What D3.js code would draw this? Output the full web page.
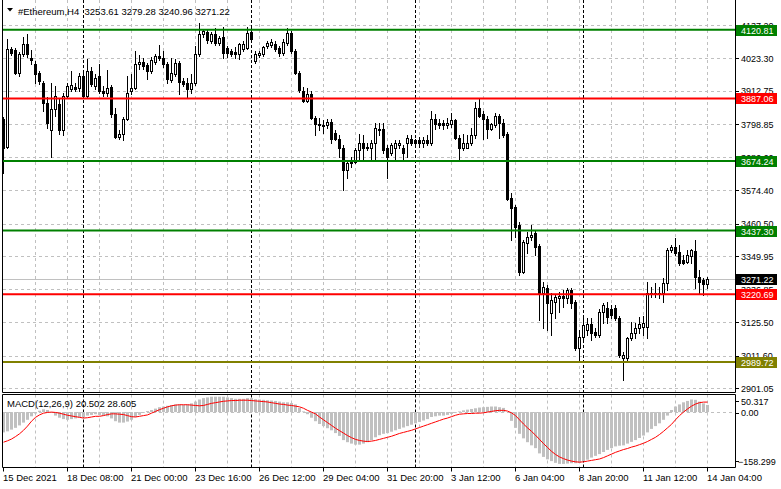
<!DOCTYPE html>
<html><head><meta charset="utf-8">
<script src="https://cdn.jsdelivr.net/npm/d3@7"></script>
<style>body{margin:0;background:#fff}svg{display:block}text{font-family:"Liberation Sans",Arial,sans-serif}</style>
</head><body><svg id="c" width="781" height="489"></svg>
<script>
const open=[3818,3723,4056,4053,3975,4039,4073,4025,4005,3975,3941,3873,3778,3852,3869,3778,3896,3920,3927,3924,3964,3896,3981,3930,3964,3913,3907,3927,3835,3757,3767,3818,3913,3924,4005,4012,4002,3981,4012,4032,4025,4005,3951,3971,4008,3947,3941,3920,3941,4039,4107,4114,4083,4107,4076,4097,4059,4049,4046,4039,4056,4059,4114,4015,4036,4039,4066,4070,4073,4059,4042,4076,4110,4049,3975,3913,3880,3903,3822,3801,3795,3795,3808,3771,3750,3720,3642,3666,3669,3710,3734,3723,3717,3734,3784,3784,3717,3703,3717,3727,3720,3734,3750,3744,3744,3734,3747,3737,3818,3805,3805,3795,3801,3812,3754,3717,3720,3734,3761,3856,3835,3818,3784,3795,3829,3805,3767,3547,3516,3455,3296,3394,3414,3428,3384,3224,3241,3156,3194,3207,3214,3207,3234,3194,3038,3075,3099,3119,3092,3082,3160,3173,3170,3173,3139,3004,3004,3072,3088,3105,3109,3109,3221,3221,3221,3224,3258,3370,3380,3363,3336,3330,3350,3367,3279,3268,3253.61];
const high=[3825,4090,4063,4059,4046,4097,4107,4053,4015,3981,3947,3893,3941,3930,3890,3907,3941,3981,3941,3975,3981,4022,3995,3971,4005,3930,3985,3934,3856,3778,3825,3964,3971,4049,4036,4025,4008,4029,4039,4070,4049,4012,4025,4022,4015,3958,3958,3971,4066,4144,4124,4124,4114,4127,4100,4131,4066,4056,4063,4076,4083,4131,4127,4049,4049,4066,4083,4090,4083,4066,4090,4127,4117,4056,3981,3927,3924,3913,3829,3822,3815,3818,3818,3778,3761,3727,3676,3686,3720,3767,3761,3734,3744,3805,3805,3805,3727,3734,3744,3747,3727,3761,3761,3750,3757,3757,3761,3846,3835,3818,3812,3822,3839,3818,3761,3767,3761,3788,3876,3886,3846,3829,3805,3839,3835,3818,3774,3564,3523,3465,3404,3431,3455,3438,3391,3262,3251,3224,3217,3228,3234,3241,3241,3201,3099,3139,3139,3139,3105,3170,3190,3194,3184,3184,3146,3024,3075,3126,3123,3143,3146,3262,3245,3258,3245,3275,3377,3387,3411,3387,3353,3370,3374,3404,3302,3275,3279.28];
const low=[3632,3717,4036,3971,3964,4032,4029,4005,3941,3937,3846,3788,3686,3829,3767,3761,3890,3913,3913,3913,3890,3890,3930,3920,3907,3896,3896,3825,3754,3750,3747,3812,3903,3920,3988,3988,3954,3975,4005,4019,3995,3941,3944,3964,3903,3930,3890,3907,3934,4032,4097,4076,4076,4070,4070,4025,4029,4032,4025,4022,4049,4056,4083,4008,4029,4032,4059,4063,4049,4032,4036,4070,4042,3971,3910,3876,3876,3818,3761,3778,3771,3788,3734,3744,3686,3574,3615,3652,3666,3676,3676,3710,3676,3676,3761,3703,3615,3693,3676,3720,3676,3686,3727,3723,3723,3723,3727,3730,3784,3788,3784,3788,3791,3750,3676,3710,3717,3727,3754,3825,3750,3754,3778,3791,3754,3757,3540,3404,3414,3285,3292,3360,3404,3353,3133,3105,3099,3082,3139,3160,3177,3190,3173,3031,2997,3065,3082,3065,3075,3075,3123,3123,3139,3133,3007,2929,2997,3065,3072,3088,3082,3072,3211,3211,3207,3194,3234,3363,3353,3319,3322,3326,3326,3241,3224,3217,3240.96];
const close=[3720,4056,4042,3975,4039,4073,4039,4019,3971,3947,3873,3805,3852,3896,3778,3896,3930,3934,3920,3964,3896,3981,3937,3958,3913,3907,3924,3835,3757,3767,3818,3907,3924,4005,4012,3998,3981,4019,4032,4025,4005,3954,3975,4008,3944,3937,3920,3941,4039,4107,4117,4087,4107,4076,4093,4042,4042,4039,4039,4073,4073,4110,4090,4039,4042,4063,4076,4080,4056,4042,4080,4110,4049,3975,3917,3880,3903,3822,3801,3795,3798,3808,3750,3750,3717,3642,3666,3669,3710,3737,3720,3717,3734,3788,3778,3710,3686,3727,3734,3737,3703,3754,3737,3734,3734,3747,3737,3818,3801,3795,3798,3805,3812,3754,3717,3737,3737,3761,3856,3829,3818,3784,3801,3829,3805,3761,3543,3513,3448,3296,3397,3414,3421,3380,3224,3245,3190,3201,3211,3214,3207,3234,3190,3038,3075,3116,3119,3088,3082,3160,3184,3143,3150,3139,3014,3014,3072,3088,3105,3119,3123,3224,3224,3224,3224,3258,3370,3380,3360,3326,3326,3353,3370,3279,3262,3255,3271.22];
const macdMain=[-58,-55,-50,-45,-38,-30,-22,-12,-4,4,8,6,-2,-10,-16,-20,-22,-20,-18,-15,-14,-10,-8,-6,-8,-10,-12,-18,-26,-30,-30,-27,-22,-14,-8,-2,3,6,10,14,16,18,20,22,22,21,22,25,30,36,40,42,44,44,44,44,42,40,38,38,38,40,40,37,36,35,34,33,32,30,28,28,26,22,12,2,-6,-16,-26,-34,-40,-46,-52,-60,-68,-80,-86,-90,-93,-93,-90,-86,-80,-72,-66,-62,-60,-56,-52,-48,-44,-40,-36,-32,-28,-24,-20,-14,-12,-10,-10,-8,-5,-2,2,5,7,9,11,13,14,15,16,16,14,12,0,-25,-45,-62,-75,-86,-95,-103,-118,-128,-135,-140,-145,-148,-148,-147,-146,-146,-145,-140,-136,-130,-125,-120,-114,-108,-103,-98,-96,-95,-90,-85,-80,-74,-67,-58,-48,-40,-32,-22,-10,6,16,22,28,32,36,35,30,25,20.502];
const macdSignal=[-86,-82,-77,-70,-62,-52,-40,-26,-15,-8,-3,-1,0,-1,-3,-6,-9,-11,-13,-15,-17,-16,-14,-12,-12,-10,-7,-5,-5,-6,-7,-10,-13,-14,-12,-10,-8,-3,2,7,11,15,18,20,21,21,21,20,19,18,19,22,25,27,29,31,32,33,33,34,34,34,33,32,31,30,29,27,25,23,22,20,19,17,15,11,5,0,-5,-14,-22,-30,-38,-46,-53,-60,-67,-73,-78,-81,-83,-84,-83,-81,-78,-75,-72,-69,-65,-61,-58,-55,-52,-48,-44,-40,-36,-32,-28,-24,-20,-17,-13,-9,-6,-5,-4,-4,-3,-3,-2,0,2,4,5,5,3,-2,-10,-22,-34,-45,-55,-66,-78,-90,-101,-112,-121,-128,-133,-137,-140,-142,-143,-142,-140,-138,-136,-134,-130,-125,-120,-115,-111,-107,-104,-100,-97,-93,-89,-84,-78,-72,-64,-55,-45,-35,-22,-10,0,9,17,23,27,28.6,28.605];
const priceTicks=[4137.20,4023.30,3912.75,3798.85,3686.60,3574.40,3460.50,3349.95,3236.85,3125.50,3011.60,2901.05];
const timeLabels=["15 Dec 2021","18 Dec 08:00","21 Dec 00:00","23 Dec 16:00","26 Dec 12:00","29 Dec 04:00","31 Dec 20:00","3 Jan 12:00","6 Jan 04:00","8 Jan 20:00","11 Jan 12:00","14 Jan 04:00"];
const timeLabelIdx=[0,16,32,48,64,80,96,112,128,144,160,176];
const weekSepIdx=[20,62,103,145];
const levelValues=[4120.81,3887.06,3674.24,3437.30,3220.69,2989.72];
const levelColors=["#008000","#ff0000","#008000","#008000","#ff0000","#808000"];
const lastPrice=3271.22;
const macdLabelValues=[50.317,0,-158.299];
const titleText="#Ethereum,H4\u00a0\u00a03253.61 3279.28 3240.96 3271.22";
const macdTitle="MACD(12,26,9) 20.502 28.605";

const svg=d3.select("#c");
const L=2.5,R=735.5,mTop=0,mBot=392.5,dTop=394.5,dBot=467.5;
const x=d3.scaleLinear().domain([0,176]).range([3,707]);
const y=d3.scaleLinear().domain([2901.05,4137.20]).range([388,25]);
const ym=d3.scaleLinear().domain([-158.299,50.317]).range([dBot,dTop]);
const fmt=d3.format(".2f");
const gridC="#c0c0c0";

const defs=svg.append("defs");
defs.append("clipPath").attr("id","mc").append("rect").attr("x",3).attr("y",1).attr("width",732).attr("height",391);
defs.append("clipPath").attr("id","dc").append("rect").attr("x",3).attr("y",395).attr("width",732).attr("height",72);

// horizontal grid
svg.append("g").selectAll("line").data(priceTicks).join("line")
 .attr("x1",3).attr("x2",735).attr("y1",d=>Math.round(y(d))+0.5).attr("y2",d=>Math.round(y(d))+0.5)
 .attr("stroke",gridC).attr("stroke-dasharray","3,3");
// vertical grid + week separators
const vg=d3.range(1,23).map(k=>k*8);
[[mTop,mBot],[dTop,dBot]].forEach(([a,b])=>{
 svg.append("g").selectAll("line").data(vg).join("line")
  .attr("x1",d=>x(d)+0.5).attr("x2",d=>x(d)+0.5).attr("y1",a).attr("y2",b)
  .attr("stroke",gridC).attr("stroke-dasharray","3,3");
 svg.append("g").selectAll("line").data(weekSepIdx).join("line")
  .attr("x1",d=>x(d)+0.5).attr("x2",d=>x(d)+0.5).attr("y1",a).attr("y2",b)
  .attr("stroke","#000").attr("stroke-dasharray","3,2");
});
// zero line macd
svg.append("line").attr("x1",3).attr("x2",735).attr("y1",Math.round(ym(0))+0.5).attr("y2",Math.round(ym(0))+0.5)
 .attr("stroke",gridC).attr("stroke-dasharray","3,3");

// bid line
svg.append("line").attr("x1",3).attr("x2",735).attr("y1",Math.round(y(lastPrice))+0.5).attr("y2",Math.round(y(lastPrice))+0.5).attr("stroke","#c0c0c0");

// candles
const idx=d3.range(open.length);
const cg=svg.append("g").attr("clip-path","url(#mc)");
cg.selectAll("line").data(idx).join("line")
 .attr("x1",i=>x(i)+0.5).attr("x2",i=>x(i)+0.5)
 .attr("y1",i=>Math.round(y(high[i]))).attr("y2",i=>Math.round(y(low[i]))+1)
 .attr("stroke","#000");
cg.selectAll("rect").data(idx).join("rect")
 .each(function(i){
   const t=Math.round(y(Math.max(open[i],close[i]))), b=Math.round(y(Math.min(open[i],close[i])));
   const h=Math.max(1,b-t);
   const s=d3.select(this);
   if(close[i]<open[i]){
     s.attr("x",x(i)-1).attr("y",t).attr("width",3).attr("height",h+1).attr("fill","#000");
   } else {
     s.attr("x",x(i)-0.5).attr("y",t+0.5).attr("width",2).attr("height",Math.max(0.5,h)).attr("fill","#fff").attr("stroke","#000");
   }
 });

// level lines
svg.append("g").selectAll("line").data(levelValues).join("line")
 .attr("x1",3).attr("x2",735).attr("y1",d=>y(d)).attr("y2",d=>y(d))
 .attr("stroke",(d,i)=>levelColors[i]).attr("stroke-width",2);

// macd histogram
const dg=svg.append("g").attr("clip-path","url(#dc)");
dg.selectAll("rect").data(idx).join("rect")
 .attr("x",i=>x(i)-1).attr("width",3)
 .attr("y",i=>Math.min(ym(macdMain[i]),ym(0)))
 .attr("height",i=>Math.abs(ym(macdMain[i])-ym(0)))
 .attr("fill","#c0c0c0");
dg.append("path").datum(idx).attr("fill","none").attr("stroke","#ff0000").attr("stroke-width",1)
 .attr("d",d3.line().x(i=>x(i)+0.5).y(i=>ym(macdSignal[i])));

// borders
[[L,mTop,L,mBot],[R,mTop,R,mBot],[L,mBot,R,mBot],[L,dTop,R,dTop],[L,dBot,R,dBot],[L,dTop,L,dBot],[R,dTop,R,dBot]].forEach(a=>{
 svg.append("line").attr("x1",a[0]).attr("y1",a[1]).attr("x2",a[2]).attr("y2",a[3]).attr("stroke","#000");
});

// price axis labels
const ax=svg.append("g").attr("font-size","9px");
ax.selectAll("text").data(priceTicks).join("text")
 .attr("x",741).attr("y",d=>y(d)+3.5).text(d=>fmt(d)).attr("fill","#000");
ax.selectAll("line").data(priceTicks).join("line")
 .attr("x1",736).attr("x2",739).attr("y1",d=>Math.round(y(d))+0.5).attr("y2",d=>Math.round(y(d))+0.5).attr("stroke","#000");

// level boxes
const lb=svg.append("g").attr("font-size","9px");
const boxes=levelValues.map((v,i)=>({v,c:levelColors[i]})).concat([{v:lastPrice,c:"#000"}]);
lb.selectAll("rect").data(boxes).join("rect")
 .attr("x",736).attr("y",d=>Math.round(y(d.v))-5).attr("width",41).attr("height",11).attr("fill",d=>d.c);
lb.selectAll("text").data(boxes).join("text")
 .attr("x",741).attr("y",d=>Math.round(y(d.v))+4).text(d=>fmt(d.v)).attr("fill","#fff");

// macd axis labels
const mlY=[ym(50.317)+6.5,ym(0)+0.5,ym(-158.299)-6.5];
svg.append("g").attr("font-size","9px").selectAll("text").data(macdLabelValues).join("text")
 .attr("x",(d,i)=>i===2?738:741).attr("y",(d,i)=>mlY[i]+3.5).text(d=>d===0?"0.00":d3.format(".3f")(d));
svg.append("g").selectAll("line").data(macdLabelValues).join("line")
 .attr("x1",736).attr("x2",739).attr("y1",(d,i)=>Math.round(mlY[i])+0.5).attr("y2",(d,i)=>Math.round(mlY[i])+0.5).attr("stroke","#000");

// time axis
const tg=svg.append("g").attr("font-size","9.5px");
tg.selectAll("line").data(timeLabelIdx).join("line")
 .attr("x1",i=>x(i)+0.5).attr("x2",i=>x(i)+0.5).attr("y1",dBot).attr("y2",dBot+4).attr("stroke","#000");
tg.selectAll("text").data(timeLabelIdx).join("text")
 .attr("x",i=>x(i)).attr("y",481).text((d,k)=>timeLabels[k]);

// titles
svg.append("path").attr("d","M7,8 L13,8 L10,11.5 Z").attr("fill","#000");
svg.append("text").attr("x",18).attr("y",14.5).attr("font-size","9.5px").text(titleText);
svg.append("text").attr("x",7).attr("y",406.5).attr("font-size","9.5px").text(macdTitle);
</script></body></html>
